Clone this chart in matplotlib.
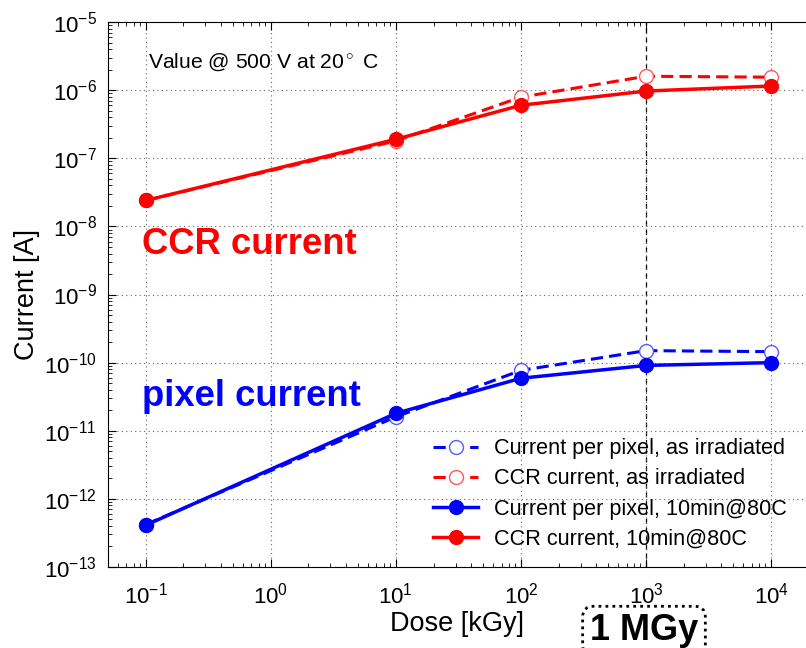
import numpy as np
import matplotlib.pyplot as plt

plt.rcParams['font.family'] = ['Liberation Sans', 'DejaVu Sans']
plt.rcParams['mathtext.fontset'] = 'custom'
plt.rcParams['mathtext.rm'] = 'Liberation Sans'
plt.rcParams['mathtext.it'] = 'Liberation Sans:italic'
plt.rcParams['mathtext.bf'] = 'Liberation Sans:bold'
plt.rcParams['axes.unicode_minus'] = False

# Dose points [kGy]
dose = [0.1, 10, 100, 1000, 10000]

# Leakage current [A] at 500 V, 20 C
pixel_irr = [4.2e-13, 1.6e-11, 7.7e-11, 1.5e-10, 1.45e-10]
ccr_irr = [2.4e-8, 1.8e-7, 7.9e-7, 1.6e-6, 1.55e-6]
pixel_ann = [4.1e-13, 1.8e-11, 5.9e-11, 9.1e-11, 1.0e-10]
ccr_ann = [2.4e-8, 1.9e-7, 6.0e-7, 9.7e-7, 1.15e-6]

mgy_dose = 1000  # 1 MGy in kGy

fig = plt.figure(figsize=(8.06, 6.48), dpi=100)
ax = fig.add_axes([0.134, 0.125, 0.866, 0.841])

ax.set_xscale('log')
ax.set_yscale('log')
ax.set_xlim(0.05, 1.9e4)
ax.set_ylim(1e-13, 1e-5)

ax.grid(True, which='major', linestyle=(0, (1, 3)), color='#666666', linewidth=0.8)
ax.axvline(mgy_dose, color='black', linestyle=(0, (4, 3)), linewidth=0.9, zorder=1.5)

dash = (0, (4, 2))
ax.plot(dose, pixel_irr, color='blue', linestyle=dash, linewidth=2.2,
        marker='o', markersize=10, markerfacecolor='white', markeredgecolor='#5a5aff',
        markeredgewidth=1.0, label='Current per pixel, as irradiated', zorder=3)
ax.plot(dose, ccr_irr, color='red', linestyle=dash, linewidth=2.2,
        marker='o', markersize=10, markerfacecolor='white', markeredgecolor='#ff5a5a',
        markeredgewidth=1.0, label='CCR current, as irradiated', zorder=3)
ax.plot(dose, pixel_ann, color='blue', linestyle='-', linewidth=2.5,
        marker='o', markersize=10, label='Current per pixel, 10min@80C', zorder=4)
ax.plot(dose, ccr_ann, color='red', linestyle='-', linewidth=2.5,
        marker='o', markersize=10, label='CCR current, 10min@80C', zorder=4)

ax.tick_params(which='both', direction='in', top=True, right=False, labelsize=16)
ax.tick_params(which='major', length=6)
ax.tick_params(which='minor', length=3)
ax.tick_params(axis='x', which='major', pad=11)
ax.tick_params(axis='y', which='major', pad=8)
ax.yaxis.set_major_locator(plt.LogLocator(base=10, numticks=20))
ax.yaxis.set_minor_locator(plt.LogLocator(base=10, subs=np.arange(2, 10), numticks=20))
ax.spines['right'].set_visible(False)

ax.set_xlabel('Dose [kGy]', fontsize=19.5, labelpad=2)
ax.set_ylabel('Current [A]', fontsize=19.5, labelpad=3)

ax.text(0.104, 2.6e-6, r'Value @ 500 V at 20$^\circ$ C', fontsize=15.2, va='center')
ax.text(0.093, 5.5e-9, 'CCR current', color='red', fontsize=26.3,
        fontweight='bold', va='center')
ax.text(0.093, 3.2e-11, 'pixel current', color='blue', fontsize=26.3,
        fontweight='bold', va='center')

leg = ax.legend(loc='lower right', bbox_to_anchor=(1.0, -0.004), frameon=False,
                fontsize=15.6, handlelength=2.1, handletextpad=0.7,
                labelspacing=0.42)

fig.text(644 / 806, 1 - 631 / 648, '1 MGy', fontsize=26, fontweight='bold',
         ha='center', va='center',
         bbox=dict(boxstyle='round,pad=0.2,rounding_size=0.3', facecolor='white',
                   edgecolor='black', linestyle=(0, (1, 1.5)), linewidth=2.0))

fig.savefig('out.png', dpi=100)
